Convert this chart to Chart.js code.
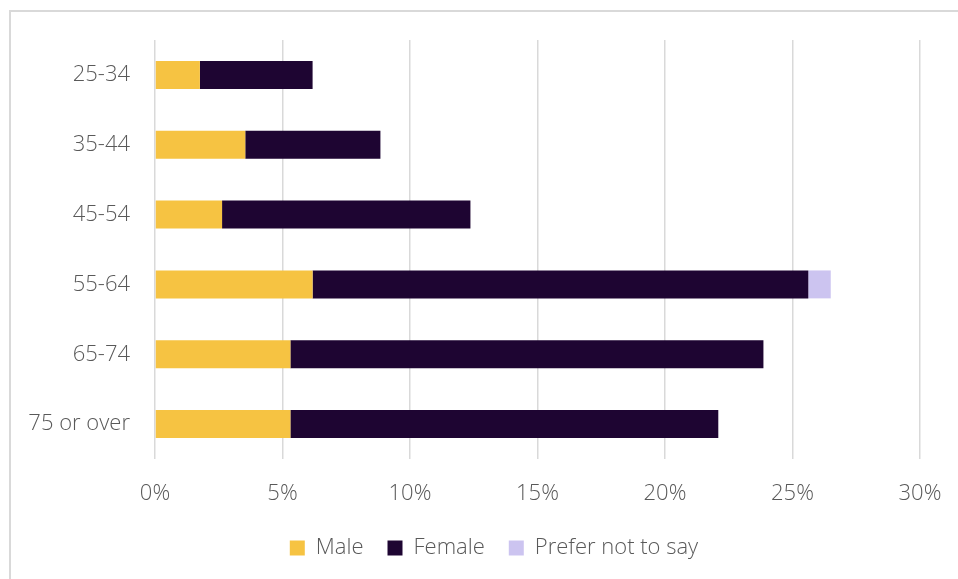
<!DOCTYPE html>
<html>
<head>
<meta charset="utf-8">
<script src="https://cdn.jsdelivr.net/npm/chart.js@4.4.1/dist/chart.umd.min.js"></script>
<style>
  html, body { margin: 0; padding: 0; background: #ffffff; overflow: hidden; width: 958px; height: 579px; }
  #frame { position: absolute; left: 9px; top: 10px; width: 1000px; height: 600px;
           border-left: 2px solid #d9d9d9; border-top: 2px solid #d9d9d9; box-sizing: border-box; }
  #c { position: absolute; left: 0; top: 0; }
</style>
</head>
<body>
<div id="frame"></div>
<canvas id="c" width="958" height="582"></canvas>
<script>
const categories = ["25-34", "35-44", "45-54", "55-64", "65-74", "75 or over"];
const maleValues = [1.76, 3.54, 2.63, 6.18, 5.31, 5.31];
const femaleValues = [4.42, 5.30, 9.74, 19.44, 18.55, 16.78];
const preferNotValues = [0, 0, 0, 0.88, 0, 0];
const xTickMax = 30;
const xTickStep = 5;

const FONT = "'Open Sans', 'Segoe UI', sans-serif";
const TEXT = "#595959";

const legendShift = {
  id: 'legendShift',
  beforeDraw(chart) {
    const lg = chart.legend;
    if (lg) {
      const w = lg.right - lg.left;
      lg.left = 494 - w / 2;
      lg.right = 494 + w / 2;
    }
  }
};

new Chart(document.getElementById('c'), {
  type: 'bar',
  data: {
    labels: categories,
    datasets: [
      { label: 'Male', data: maleValues, backgroundColor: '#f6c342', borderWidth: 0 },
      { label: 'Female', data: femaleValues, backgroundColor: '#1e0532', borderWidth: 0 },
      { label: 'Prefer not to say', data: preferNotValues, backgroundColor: '#ccc4f0', borderWidth: 0 }
    ]
  },
  plugins: [legendShift],
  options: {
    indexAxis: 'y',
    responsive: false,
    animation: false,
    layout: { padding: { top: 40, right: 38, left: 0, bottom: 13 } },
    datasets: { bar: { barPercentage: 0.4, categoryPercentage: 1.0 } },
    scales: {
      x: {
        stacked: true,
        min: 0, max: xTickMax,
        border: { display: false },
        grid: { color: '#d9d9d9', lineWidth: 1.5, drawTicks: false },
        ticks: {
          stepSize: xTickStep, padding: 22, color: TEXT,
          font: { family: FONT, size: 22, weight: '300' },
          callback: v => v + '%'
        },
        afterFit: s => { s.height = 54; s.paddingRight = 0; s.paddingLeft = 0; }
      },
      y: {
        stacked: true,
        border: { display: false },
        grid: { display: false, drawTicks: false },
        ticks: { padding: 25, color: TEXT, font: { family: FONT, size: 22, weight: '300' } },
        afterFit: s => { s.width = 155; s.paddingTop = 0; s.paddingBottom = 0; }
      }
    },
    plugins: {
      legend: {
        position: 'bottom',
        labels: {
          boxWidth: 15, boxHeight: 15, padding: 24, color: TEXT,
          font: { family: FONT, size: 22, weight: '300' }
        }
      },
      tooltip: { enabled: false }
    }
  }
});
</script>
</body>
</html>
